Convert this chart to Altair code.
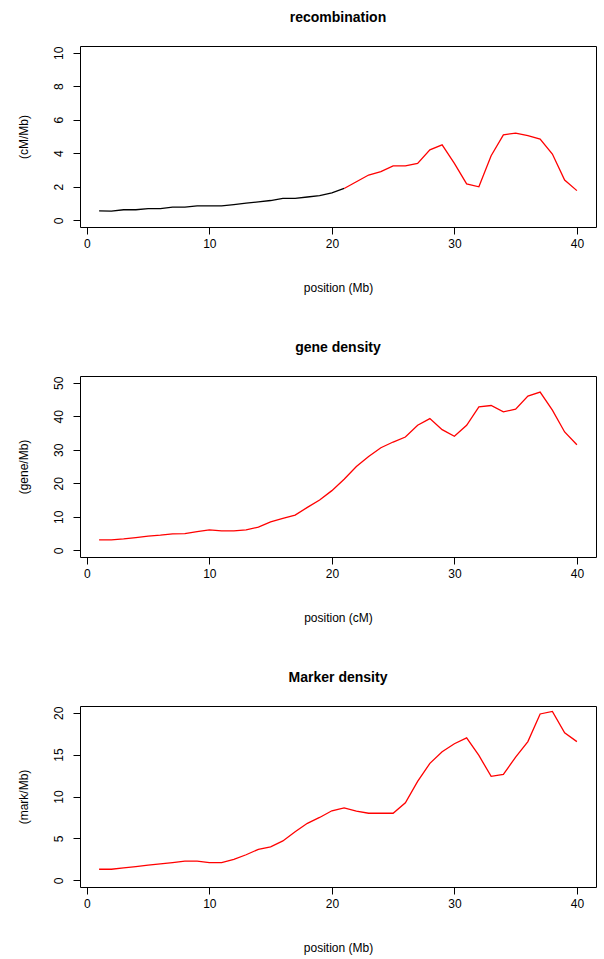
import altair as alt
import pandas as pd

positions = list(range(1, 41))

recomb = [0.56, 0.55, 0.63, 0.63, 0.70, 0.70, 0.78, 0.78, 0.86, 0.86,
          0.86, 0.94, 1.02, 1.10, 1.18, 1.31, 1.31, 1.39, 1.47, 1.63,
          1.90, 2.30, 2.70, 2.90, 3.25, 3.25, 3.40, 4.20, 4.50, 3.40,
          2.17, 2.00, 3.85, 5.10, 5.20, 5.05, 4.85, 3.95, 2.40, 1.77]

gene = [3.1, 3.1, 3.4, 3.8, 4.2, 4.5, 4.9, 5.0, 5.6, 6.1,
        5.8, 5.8, 6.1, 6.9, 8.5, 9.5, 10.5, 12.8, 15.0, 17.8,
        21.2, 25.0, 28.0, 30.6, 32.3, 33.8, 37.3, 39.3, 36.0, 34.0,
        37.3, 42.8, 43.2, 41.3, 42.1, 46.0, 47.2, 41.8, 35.3, 31.5]

marker = [1.32, 1.32, 1.48, 1.64, 1.80, 1.96, 2.12, 2.28, 2.28, 2.12,
          2.12, 2.50, 3.05, 3.70, 4.00, 4.70, 5.80, 6.80, 7.50, 8.30,
          8.65, 8.25, 8.00, 8.00, 8.00, 9.25, 11.8, 13.95, 15.35, 16.3,
          17.0, 14.9, 12.4, 12.65, 14.7, 16.55, 19.85, 20.15, 17.6, 16.55]

recomb_split = 21  # black up to here, red after

x_ticks = [0, 10, 20, 30, 40]
x_domain = [-0.56, 41.56]

FONT = "Liberation Sans"
W, H = 516, 181


def panel(df, title, ytitle, xtitle, ydomain, yticks, colored=False):
    x = alt.X("pos:Q", title=xtitle,
              scale=alt.Scale(domain=x_domain, nice=False, zero=False),
              axis=alt.Axis(values=x_ticks, format="d"))
    y = alt.Y("val:Q", title=ytitle,
              scale=alt.Scale(domain=ydomain, nice=False, zero=False),
              axis=alt.Axis(values=yticks, format="d", labelAngle=270,
                            labelAlign="center", labelBaseline="bottom"))
    if colored:
        color = alt.Color("part:N", legend=None,
                          scale=alt.Scale(domain=["a", "b"], range=["#000000", "#FF0000"]))
    else:
        color = alt.value("#FF0000")
    return alt.Chart(df).mark_line(strokeWidth=1.3).encode(
        x=x, y=y, color=color, detail="part:N"
    ).properties(
        width=W, height=H,
        title=alt.Title(title, fontSize=14, fontWeight="bold", font=FONT,
                        anchor="middle", frame="group", baseline="bottom",
                        offset=7, color="#000000")
    )


rows1 = []
for p, v in zip(positions, recomb):
    if p <= recomb_split:
        rows1.append({"pos": p, "val": v, "part": "a"})
    if p >= recomb_split:
        rows1.append({"pos": p, "val": v, "part": "b"})
df1 = pd.DataFrame(rows1)
df2 = pd.DataFrame({"pos": positions, "val": gene, "part": "b"})
df3 = pd.DataFrame({"pos": positions, "val": marker, "part": "b"})

c1 = panel(df1, "recombination", "(cM/Mb)", "position (Mb)", [-0.4, 10.4],
           [0, 2, 4, 6, 8, 10], colored=True)
c2 = panel(df2, "gene density", "(gene/Mb)", "position (cM)", [-2, 52],
           [0, 10, 20, 30, 40, 50])
c3 = panel(df3, "Marker density", "(mark/Mb)", "position (Mb)", [-0.8, 20.8],
           [0, 5, 10, 15, 20])

chart = alt.vconcat(c1, c2, c3, spacing=46).properties(
    padding={"left": 16, "top": 10, "right": 6, "bottom": 5}
).configure_view(
    stroke="#000000", strokeWidth=1
).configure_axis(
    grid=False, domain=False, ticks=True, tickSize=7, tickColor="#000000",
    tickWidth=1, labelFont=FONT, labelFontSize=12, labelColor="#000000",
    titleFont=FONT, titleFontSize=12, titleFontWeight="normal", titleColor="#000000",
    labelPadding=4
).configure_axisX(
    titlePadding=33
).configure_axisY(
    labelPadding=8, titlePadding=22
)

chart.save("out.html", embed_options={"renderer": "svg", "actions": False})
